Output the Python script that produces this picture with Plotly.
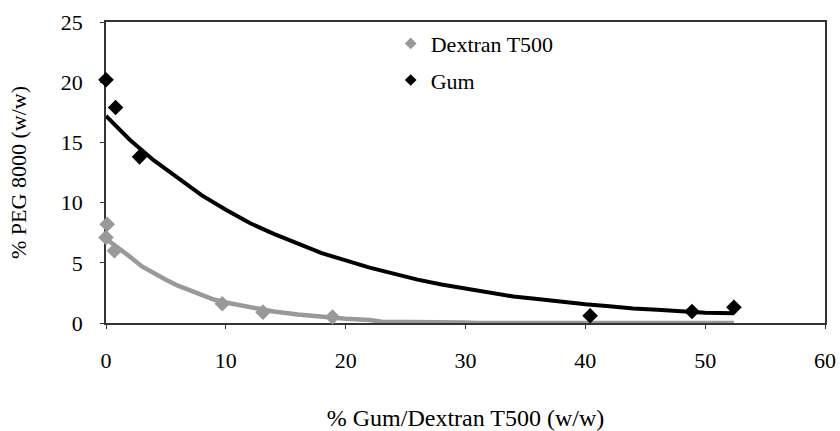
import plotly.graph_objects as go

# Measured data points
dex_x = [0.1, 0.0, 0.7, 9.7, 13.1, 18.9]
dex_y = [8.2, 7.1, 6.0, 1.6, 0.9, 0.5]
gum_x = [0.0, 0.8, 2.8, 40.4, 48.9, 52.4]
gum_y = [20.2, 17.9, 13.8, 0.6, 0.95, 1.3]

# Trend lines
gum_trend_x = [0, 2, 4, 6, 8, 10, 12, 14, 16, 18, 20, 22, 24, 26, 28, 30, 32, 34,
               36, 38, 40, 42, 44, 46, 48, 50, 52.4]
gum_trend_y = [17.2, 15.2, 13.5, 12.0, 10.6, 9.4, 8.3, 7.4, 6.6, 5.8, 5.2, 4.6, 4.1,
               3.6, 3.2, 2.85, 2.5, 2.2, 2.0, 1.75, 1.55, 1.4, 1.2, 1.1, 0.95, 0.85, 0.8]
dex_trend_x = [0, 1, 2, 3, 4, 5, 6, 7, 8, 9, 10, 12, 14, 16, 18, 20, 22, 23, 30, 31, 52.4]
dex_trend_y = [7.0, 6.3, 5.5, 4.7, 4.1, 3.6, 3.1, 2.7, 2.3, 1.95, 1.7, 1.3, 0.95, 0.7,
               0.5, 0.35, 0.25, 0.1, 0.05, 0.0, 0.0]

x_ticks = [0, 10, 20, 30, 40, 50, 60]
y_ticks = [0, 5, 10, 15, 20, 25]

GRAY = "#999999"
BLACK = "#000000"
FONT = "Liberation Serif"

fig = go.Figure()
fig.add_trace(go.Scatter(x=dex_trend_x, y=dex_trend_y, mode="lines",
                         line=dict(color=GRAY, width=4.5), showlegend=False,
                         cliponaxis=False))
fig.add_trace(go.Scatter(x=gum_trend_x, y=gum_trend_y, mode="lines",
                         line=dict(color=BLACK, width=4), showlegend=False,
                         cliponaxis=False))
fig.add_trace(go.Scatter(x=dex_x, y=dex_y, mode="markers",
                         marker=dict(symbol="diamond", color=GRAY, size=12),
                         showlegend=False, cliponaxis=False))
fig.add_trace(go.Scatter(x=gum_x, y=gum_y, mode="markers",
                         marker=dict(symbol="diamond", color=BLACK, size=12),
                         showlegend=False, cliponaxis=False))
# legend entries
fig.add_trace(go.Scatter(x=[None], y=[None], mode="markers", name="Dextran T500",
                         marker=dict(symbol="diamond", color=GRAY, size=9),
                         legendgroup="a"))
fig.add_trace(go.Scatter(x=[None], y=[None], mode="markers", name="Gum",
                         marker=dict(symbol="diamond", color=BLACK, size=9),
                         legendgroup="b"))

axis_common = dict(showline=True, linecolor="#333333", linewidth=1.5, mirror=True,
                   showgrid=False, zeroline=False, ticks="outside", ticklen=4,
                   tickcolor="#333333", tickwidth=1, layer="below traces",
                   automargin=False,
                   tickfont=dict(family=FONT, size=22, color="black"))

fig.update_layout(
    width=840, height=431,
    margin=dict(l=106, r=15, t=22, b=108),
    paper_bgcolor="white", plot_bgcolor="white",
    font=dict(family=FONT, size=22, color="black"),
    xaxis=dict(range=[0, 60], tickvals=x_ticks, ticklabelstandoff=13,
               title=dict(text="% Gum/Dextran T500 (w/w)", standoff=39,
                          font=dict(family=FONT, size=24)),
               **axis_common),
    yaxis=dict(range=[0, 25], tickvals=y_ticks, ticklabelstandoff=13,
               title=dict(text="% PEG 8000 (w/w)", standoff=28,
                          font=dict(family=FONT, size=22)),
               **axis_common),
    legend=dict(x=0.396, y=0.998, xanchor="left", yanchor="top",
                traceorder="grouped", tracegroupgap=5,
                font=dict(family=FONT, size=22), bgcolor="rgba(0,0,0,0)"),
)

fig.write_html("out.html")
